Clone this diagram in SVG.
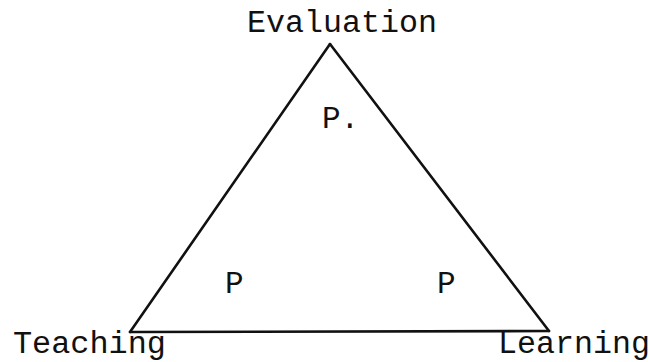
<svg xmlns="http://www.w3.org/2000/svg" width="649" height="362" viewBox="0 0 649 362">
<style>
.lbl{font-family:"Liberation Mono","Courier New",monospace;font-size:31px;fill:#111}
.edge{stroke:#111;stroke-width:2.6;fill:none;stroke-linecap:round}
</style>
<rect width="649" height="362" fill="#fff"/>
<g id="connectors">
<line class="edge" x1="330" y1="44" x2="130" y2="332"/>
<line class="edge" x1="330" y1="44" x2="549" y2="331"/>
<line class="edge" x1="130" y1="332" x2="549" y2="331"/>
</g>
<g id="evaluation"><text class="lbl" x="247" y="32" textLength="190" lengthAdjust="spacingAndGlyphs">Evaluation</text></g>
<g id="teaching"><text class="lbl" x="13" y="353" textLength="153" lengthAdjust="spacingAndGlyphs">Teaching</text></g>
<g id="learning"><text class="lbl" x="498" y="353" textLength="152" lengthAdjust="spacingAndGlyphs">Learning</text></g>
<g id="p-top"><text class="lbl" x="322" y="128">P.</text></g>
<g id="p-left"><text class="lbl" x="225" y="293">P</text></g>
<g id="p-right"><text class="lbl" x="437" y="293">P</text></g>
</svg>
